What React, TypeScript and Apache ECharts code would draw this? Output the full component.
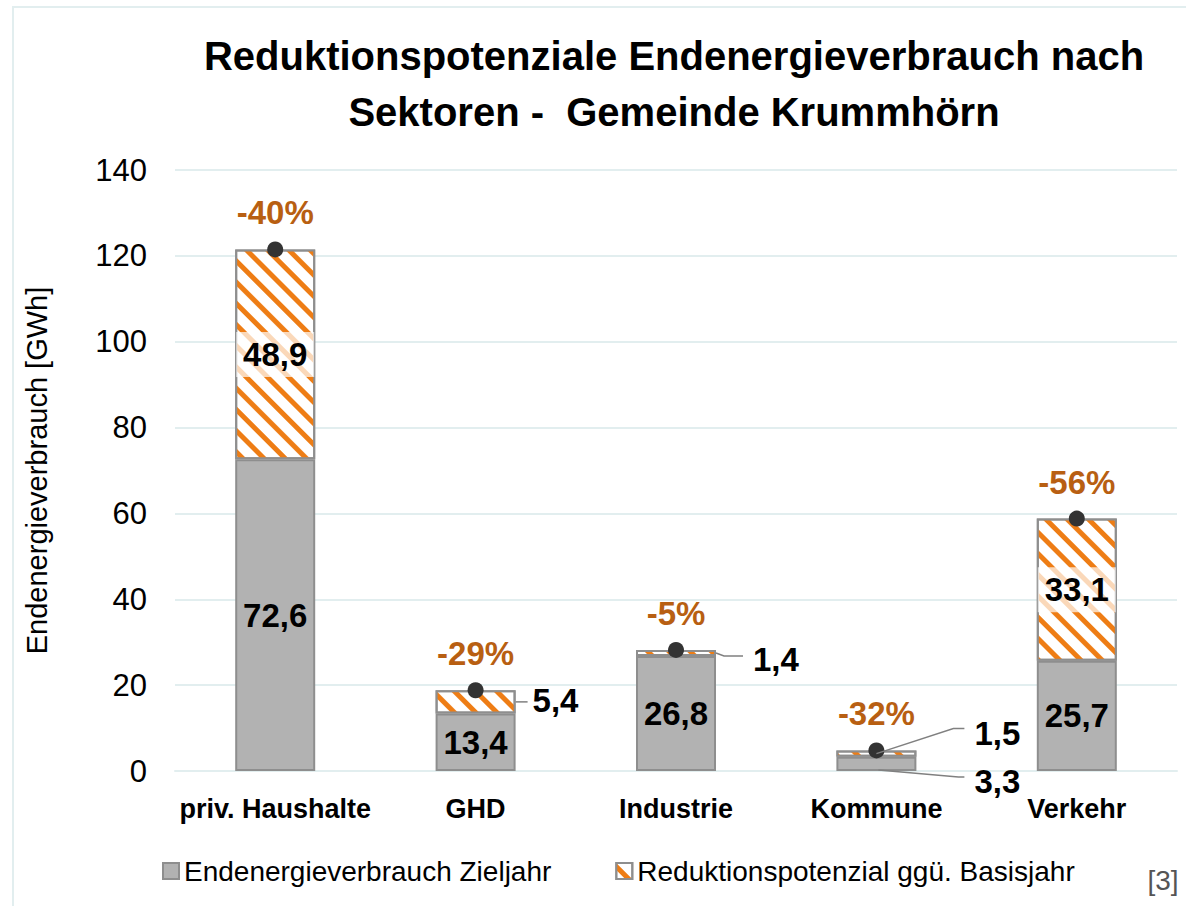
import React, { useEffect, useRef } from "react";
import * as echarts from "echarts";

const categories = ["priv. Haushalte", "GHD", "Industrie", "Kommune", "Verkehr"];
const zieljahr = [72.6, 13.4, 26.8, 3.3, 25.7];
const reduktion = [48.9, 5.4, 1.4, 1.5, 33.1];
const prozent = ["-40%", "-29%", "-5%", "-32%", "-56%"];
const seriesNames = ["Endenergieverbrauch Zieljahr", "Reduktionspotenzial ggü. Basisjahr"];
const titleLines = ["Reduktionspotenziale Endenergieverbrauch nach", "Sektoren -  Gemeinde Krummhörn"];
const yAxisName = "Endenergieverbrauch [GWh]";
const yMin = 0;
const yMax = 140;
const yInterval = 20;
const sourceNote = "[3]";

const FONT = "'Liberation Sans', Arial, sans-serif";
const GRID = "#e2eeef";
const BAR_W = 80;

// which labels sit outside the bar (series 0 = Zieljahr, 1 = Reduktion)
const insideZiel = [true, true, true, false, true];
const insideRed = [true, false, false, false, true];
const bandRed = [true, false, false, false, true];

// leader line layout (pixel offsets only)
const outsideLabels = [
  { s: 1, i: 1, anchor: "right", pts: [[0, 0], [12, 0]], t: [17, -1] },
  { s: 1, i: 2, anchor: "right", pts: [[0, 0], [8, 3], [27, 3]], t: [37, 7] },
  { s: 1, i: 3, anchor: "center", pts: [[0, 0], [77, -25], [88, -25]], t: [98, -20] },
  { s: 0, i: 3, anchor: "bottom", pts: [[2, -1], [82, 6], [88, 6]], t: [98, 10] },
];

const fmt = (v: number) => String(v).replace(".", ",");

export default function App() {
  const ref = useRef<HTMLDivElement>(null);
  useEffect(() => {
    document.body.style.margin = "0";
    const chart = echarts.init(ref.current!, undefined, { renderer: "svg" });
    const totals = zieljahr.map((v, i) => Math.round((v + reduktion[i]) * 10) / 10);
    const dataLabel = {
      color: "#000",
      fontFamily: FONT,
      fontWeight: "bold" as const,
      fontSize: 33,
    };
    const option: any = {
      animation: false,
      backgroundColor: "#fff",
      textStyle: { fontFamily: FONT },
      grid: { left: 175, right: 9, top: 170, bottom: 135, containLabel: false },
      legend: {
        data: seriesNames,
        left: 157,
        top: 852,
        itemWidth: 16,
        itemHeight: 16,
        itemGap: 64,
        icon: "rect",
        textStyle: { fontFamily: FONT, fontSize: 28, color: "#000" },
      },
      xAxis: {
        type: "category",
        data: categories,
        axisLine: { show: true, lineStyle: { color: GRID, width: 2 } },
        axisTick: { show: false },
        axisLabel: {
          margin: 24,
          color: "#000",
          fontFamily: FONT,
          fontWeight: "bold",
          fontSize: 27,
          interval: 0,
        },
      },
      yAxis: {
        type: "value",
        min: yMin,
        max: yMax,
        interval: yInterval,
        name: yAxisName,
        nameLocation: "middle",
        nameGap: 124,
        nameTextStyle: { fontFamily: FONT, fontSize: 29, color: "#000" },
        axisLine: { show: false },
        axisTick: { show: false },
        splitLine: { lineStyle: { color: GRID, width: 2 } },
        axisLabel: { margin: 28, color: "#000", fontFamily: FONT, fontSize: 31 },
      },
      series: [
        {
          name: seriesNames[0],
          type: "bar",
          stack: "total",
          barWidth: BAR_W,
          itemStyle: { color: "#b2b2b2", borderColor: "#8e8e8e", borderWidth: 2 },
          label: { show: true, position: "inside", formatter: (p: any) => fmt(p.value), ...dataLabel },
          data: zieljahr.map((v, i) => ({ value: v, label: { show: insideZiel[i] } })),
        },
        {
          name: seriesNames[1],
          type: "bar",
          stack: "total",
          barWidth: BAR_W,
          itemStyle: {
            color: "#ffffff",
            borderColor: "#8e8e8e",
            borderWidth: 2,
            decal: {
              symbol: "rect",
              symbolSize: 1,
              color: "#ee7d15",
              backgroundColor: "#ffffff",
              dashArrayX: [1, 0],
              dashArrayY: [5, 10],
              rotation: Math.PI / 4,
            },
          },
          label: { show: true, position: "inside", formatter: (p: any) => fmt(p.value), ...dataLabel },
          data: reduktion.map((v, i) => ({
            value: v,
            label: bandRed[i]
              ? {
                  show: insideRed[i],
                  backgroundColor: "rgba(255,255,255,0.7)",
                  width: 78,
                  align: "center",
                  padding: [6, 0],
                }
              : { show: insideRed[i] },
          })),
        },
        {
          name: "Summe",
          type: "scatter",
          symbol: "circle",
          symbolSize: 16,
          z: 10,
          itemStyle: { color: "#333333", opacity: 1 },
          label: {
            show: true,
            position: "top",
            distance: 12,
            color: "#b85f12",
            fontFamily: FONT,
            fontWeight: "bold",
            fontSize: 33,
            opacity: 1,
            formatter: (p: any) => prozent[p.dataIndex],
          },
          data: totals,
        },
      ],
    };
    chart.setOption(option);

    const px = (i: number, v: number) =>
      chart.convertToPixel({ xAxisIndex: 0, yAxisIndex: 0 }, [i, v]) as number[];
    const graphics: any[] = [
      {
        type: "rect",
        shape: { x: 13, y: 7, width: 1300, height: 1000 },
        style: { fill: "none", stroke: GRID, lineWidth: 2 },
        silent: true,
      },
      ...titleLines.map((t, k) => ({
        type: "text",
        x: 674,
        y: 56 + k * 56,
        style: {
          text: t,
          align: "center",
          verticalAlign: "middle",
          font: `bold 40px ${FONT}`,
          fill: "#000",
        },
      })),
      {
        type: "text",
        x: 1163,
        y: 880,
        style: {
          text: sourceNote,
          align: "center",
          verticalAlign: "middle",
          font: `28px ${FONT}`,
          fill: "#555",
        },
      },
    ];
    outsideLabels.forEach((o) => {
      const base = o.s === 1 ? zieljahr[o.i] : 0;
      const val = o.s === 1 ? reduktion[o.i] : zieljahr[o.i];
      let ax: number, ay: number;
      if (o.anchor === "right") {
        const p = px(o.i, base + val / 2);
        ax = p[0] + BAR_W / 2;
        ay = p[1];
      } else if (o.anchor === "center") {
        const p = px(o.i, base + val / 2);
        ax = p[0];
        ay = p[1];
      } else {
        const p = px(o.i, base);
        ax = p[0];
        ay = p[1];
      }
      graphics.push({
        type: "polyline",
        shape: { points: o.pts.map(([dx, dy]) => [ax + dx, ay + dy]) },
        style: { stroke: "#808080", lineWidth: 1.5, fill: "none" },
        z: 20,
      });
      graphics.push({
        type: "text",
        x: ax + o.t[0],
        y: ay + o.t[1],
        z: 20,
        style: {
          text: fmt(val),
          align: "left",
          verticalAlign: "middle",
          font: `bold 33px ${FONT}`,
          fill: "#000",
        },
      });
    });
    chart.setOption({ graphic: graphics });
    return () => chart.dispose();
  }, []);
  return <div ref={ref} style={{ width: 1186, height: 906 }} />;
}
